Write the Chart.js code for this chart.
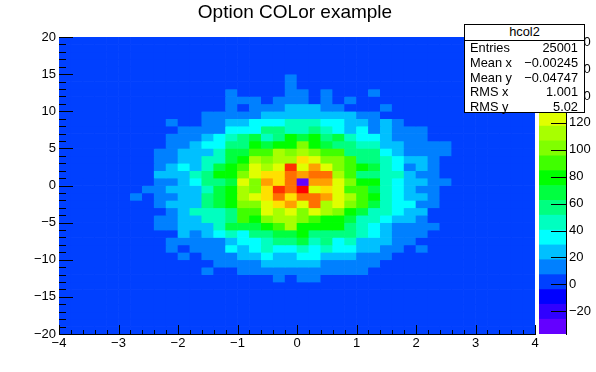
<!DOCTYPE html>
<html lang="en">
<head>
    <meta charset="UTF-8">
    <title>Option COLor example</title>
    <script src="https://cdn.jsdelivr.net/npm/chart.js"></script>
    <style>
        body { margin: 0; background: white; font-family: "Liberation Sans", Arial, sans-serif; color: black; }
        canvas { position: absolute; left: 0; top: 0; }
        #title { position: absolute; left: 0; top: 0; width: 590px; text-align: center; font-size: 19px; line-height: 24px; }
        #stats { position: absolute; left: 464px; top: 24px; width: 121px; height: 89px; box-sizing: border-box; border: 1px solid black; background: white; font-size: 12.8px; }
        #stats .head { text-align: center; height: 15px; line-height: 14px; border-bottom: 1px solid black; }
        #stats .row { position: absolute; left: 5px; right: 6px; display: flex; justify-content: space-between; line-height: 15px; }
    </style>
</head>
<body>
    <canvas id="map" width="596" height="372"></canvas>
    <canvas id="palette" width="596" height="372"></canvas>
    <div id="title">Option COLor example</div>
    <div id="stats"><div class="head">hcol2</div></div>

    <script>
    // bin centres of the 40 x 40 histogram
    const xCentres = [-3.9,-3.7,-3.5,-3.3,-3.1,-2.9,-2.7,-2.5,-2.3,-2.1,-1.9,-1.7,-1.5,-1.3,-1.1,-0.9,-0.7,-0.5,-0.3,-0.1,0.1,0.3,0.5,0.7,0.9,1.1,1.3,1.5,1.7,1.9,2.1,2.3,2.5,2.7,2.9,3.1,3.3,3.5,3.7,3.9];
    const yCentres = [19.5,18.5,17.5,16.5,15.5,14.5,13.5,12.5,11.5,10.5,9.5,8.5,7.5,6.5,5.5,4.5,3.5,2.5,1.5,0.5,-0.5,-1.5,-2.5,-3.5,-4.5,-5.5,-6.5,-7.5,-8.5,-9.5,-10.5,-11.5,-12.5,-13.5,-14.5,-15.5,-16.5,-17.5,-18.5,-19.5];

    // counts: rows 5..32 from the top, columns 6..33, everything else is 0
    const firstRow = 5;
    const firstCol = 6;
    const counts = [
        [0,0,0,0,0,0,0,0,0,0,0,0,0,13,0,0,0,0,0,0,0,0,0,0,0,0,0,0],
        [0,0,0,0,0,0,0,0,0,0,0,0,0,13,0,0,0,0,0,0,0,0,0,0,0,0,0,0],
        [0,0,0,0,0,0,0,0,13,0,0,0,0,13,13,0,13,0,0,0,13,0,0,0,0,0,0,0],
        [0,0,0,0,0,0,0,0,13,13,13,0,13,13,13,0,13,0,13,0,0,0,0,0,0,0,0,0],
        [0,0,0,0,0,0,0,0,13,0,13,13,13,24,24,24,13,13,0,0,0,13,0,0,0,0,0,0],
        [0,0,0,0,0,0,13,13,13,13,13,24,24,24,24,24,24,24,24,13,13,0,0,0,0,0,0,0],
        [0,0,0,13,0,0,13,13,24,24,35,35,35,46,46,46,35,35,24,24,13,24,13,0,0,0,0,0],
        [0,0,0,0,13,13,13,13,35,35,35,57,57,46,46,57,46,35,24,35,13,24,13,13,13,0,0,0],
        [0,0,0,13,13,13,24,35,46,57,68,46,57,79,68,79,57,68,46,35,35,24,13,13,13,0,0,0],
        [0,0,0,13,13,24,35,35,57,57,79,68,79,79,101,79,68,57,57,46,46,24,24,13,13,13,13,0],
        [0,0,13,13,24,24,24,46,68,68,90,90,112,101,112,101,90,90,57,57,57,35,24,13,13,13,13,0],
        [0,0,13,13,24,24,46,46,68,79,112,101,112,112,134,123,101,101,90,57,57,46,35,24,24,13,0,0],
        [0,0,13,24,35,24,46,68,79,90,123,112,123,167,123,145,123,101,90,79,68,46,35,13,24,13,0,0],
        [0,0,24,24,24,46,57,79,79,101,123,134,134,156,145,156,156,112,90,57,57,46,46,24,13,13,0,0],
        [0,0,13,13,24,35,57,57,68,123,101,145,134,156,-30,145,145,123,101,79,79,46,35,24,24,13,13,0],
        [0,13,13,24,24,24,46,68,79,112,101,134,167,156,178,123,134,123,90,90,68,46,35,24,13,13,0,0],
        [13,0,13,13,24,24,57,68,79,112,123,134,156,134,156,156,145,123,112,90,79,46,35,24,24,13,0,0],
        [0,0,13,24,24,24,57,68,79,101,101,123,134,145,123,156,112,123,101,90,68,46,35,35,13,13,0,0],
        [0,0,0,13,24,46,46,46,57,90,90,123,112,123,101,123,112,101,79,68,46,46,35,24,24,0,0,0],
        [0,0,13,13,24,24,46,46,57,90,79,101,112,112,101,90,79,79,68,46,46,35,24,24,13,0,0,0],
        [0,0,13,13,24,24,24,46,68,68,68,79,90,112,79,79,79,79,57,46,35,24,13,13,13,13,0,0],
        [0,0,0,0,24,13,24,35,46,35,57,57,68,68,79,57,57,57,57,46,35,24,13,13,13,0,0,0],
        [0,0,0,13,13,13,13,13,24,35,35,46,57,57,68,46,57,35,46,24,24,24,13,13,0,0,0,0],
        [0,0,0,13,0,13,13,13,35,24,35,46,35,35,46,35,46,35,35,24,24,13,13,0,13,0,0,0],
        [0,0,0,0,13,0,13,13,13,24,24,35,24,24,35,35,24,24,24,13,13,13,0,0,0,0,0,0],
        [0,0,0,0,0,0,0,13,13,13,13,24,24,24,24,24,13,13,13,13,13,0,0,0,0,0,0,0],
        [0,0,0,0,0,0,13,0,0,13,13,13,13,13,13,13,13,13,13,13,0,0,0,0,0,0,0,0],
        [0,0,0,0,0,0,0,0,0,0,0,0,13,0,13,13,0,0,0,0,0,0,0,0,0,0,0,0]
    ];

    // colour scale: lower edges of the 20 levels and their colours
    const levelEdges = [-36.9,-25.9,-14.8,-3.8,7.2,18.3,29.3,40.3,51.4,62.4,73.4,84.5,95.5,106.6,117.6,128.6,139.7,150.7,161.7,172.8,183.8];
    const levelColors = ['#6400ff','#3000ff','#0000ff','#0040ff','#0080ff','#00c0ff','#00ffff','#00ffc0','#00ff80','#00ff40','#00ff00','#40ff00','#80ff00','#a8ff00','#e0ff00','#ffe000','#ffa000','#ff7000','#ff3000','#ff0000'];

    const statLabels = ['Entries', 'Mean x', 'Mean y', 'RMS x', 'RMS y'];
    const statValues = ['25001', '\u22120.00245', '\u22120.04747', '1.001', '5.02'];

    statLabels.forEach((label, i) => {
        const row = document.createElement('div');
        row.className = 'row';
        row.style.top = (15 + i * 14.8) + 'px';
        row.innerHTML = '<span>' + label + '</span><span>' + statValues[i] + '</span>';
        document.getElementById('stats').appendChild(row);
    });

    function colorFor(v) {
        for (let i = 0; i < levelColors.length; i++) {
            if (v < levelEdges[i + 1]) return levelColors[i];
        }
        return levelColors[levelColors.length - 1];
    }

    function countAt(row, col) {
        const r = counts[row - firstRow];
        if (!r || col < firstCol || col - firstCol >= r.length) return 0;
        return r[col - firstCol];
    }

    const minus = value => String(value).replace('-', '\u2212');
    const tickFont = { family: '"Liberation Sans", Arial, sans-serif', size: 13 };

    // ROOT draws its ticks inside the frame
    const innerTicks = {
        id: 'innerTicks',
        afterDatasetsDraw(chart, args, opts) {
            const c = chart.ctx, area = chart.chartArea;
            c.save();
            c.strokeStyle = 'black';
            c.lineWidth = 1;
            c.beginPath();
            (opts.y || []).forEach(t => {
                for (let v = t.min; v <= t.max + 1e-6; v += t.step) {
                    const y = Math.round(chart.scales.y.getPixelForValue(v)) + 0.5;
                    const big = Math.abs(v / t.major - Math.round(v / t.major)) < 1e-6;
                    const len = big ? t.bigLen : t.smallLen;
                    if (t.right) { c.moveTo(area.right, y); c.lineTo(area.right - len, y); }
                    else { c.moveTo(area.left, y); c.lineTo(area.left + len, y); }
                }
            });
            (opts.x || []).forEach(t => {
                for (let v = t.min; v <= t.max + 1e-6; v += t.step) {
                    const x = Math.round(chart.scales.x.getPixelForValue(v)) + 0.5;
                    const big = Math.abs(v / t.major - Math.round(v / t.major)) < 1e-6;
                    c.moveTo(x, area.bottom);
                    c.lineTo(x, area.bottom - (big ? t.bigLen : t.smallLen));
                }
            });
            c.stroke();
            c.restore();
        }
    };

    const mapDatasets = yCentres.map((yc, row) => ({
        data: xCentres.map(xc => ({ x: xc, y: [yc - 0.5, yc + 0.5] })),
        backgroundColor: xCentres.map((xc, col) => colorFor(countAt(row, col))),
        grouped: false,
        barPercentage: 1,
        categoryPercentage: 1,
        borderWidth: 0
    }));

    new Chart(document.getElementById('map'), {
        type: 'bar',
        data: { datasets: mapDatasets },
        plugins: [innerTicks],
        options: {
            responsive: false,
            animation: false,
            layout: { padding: { left: 0, right: 61, top: 37, bottom: 0 }, autoPadding: false },
            plugins: {
                legend: { display: false },
                tooltip: { enabled: false },
                innerTicks: {
                    y: [{ min: -20, max: 20, step: 1, major: 5, bigLen: 14, smallLen: 7 }],
                    x: [{ min: -4, max: 4, step: 0.2, major: 1, bigLen: 9, smallLen: 4 }]
                }
            },
            scales: {
                x: {
                    type: 'linear', min: -4, max: 4, offset: false,
                    grid: { display: false, drawTicks: false },
                    border: { color: 'black' },
                    ticks: { stepSize: 1, color: 'black', font: tickFont, padding: 2, maxRotation: 0, callback: minus },
                    afterFit(scale) { scale.height = 38; }
                },
                y: {
                    min: -20, max: 20,
                    grid: { display: false, drawTicks: false },
                    border: { color: 'black' },
                    ticks: { stepSize: 5, color: 'black', font: tickFont, padding: 3, callback: minus },
                    afterFit(scale) { scale.width = 59; }
                }
            }
        }
    });

    new Chart(document.getElementById('palette'), {
        type: 'bar',
        data: {
            labels: ['z'],
            datasets: levelColors.map((col, i) => ({
                data: [[levelEdges[i], levelEdges[i + 1]]],
                backgroundColor: col,
                grouped: false,
                barPercentage: 1,
                categoryPercentage: 1,
                borderWidth: 0
            }))
        },
        plugins: [innerTicks],
        options: {
            responsive: false,
            animation: false,
            layout: { padding: { left: 539, right: 0, top: 37, bottom: 38 }, autoPadding: false },
            plugins: {
                legend: { display: false },
                tooltip: { enabled: false },
                innerTicks: { y: [{ min: -20, max: 180, step: 20, major: 20, bigLen: 15, smallLen: 15, right: true }] }
            },
            scales: {
                x: { display: false },
                y: {
                    position: 'right',
                    min: -36.9, max: 183.8,
                    grid: { display: false, drawTicks: false },
                    border: { color: 'black' },
                    ticks: { stepSize: 20, includeBounds: false, color: 'black', font: tickFont, padding: 3, callback: minus },
                    afterFit(scale) { scale.width = 30; }
                }
            }
        }
    });
    </script>
</body>
</html>
